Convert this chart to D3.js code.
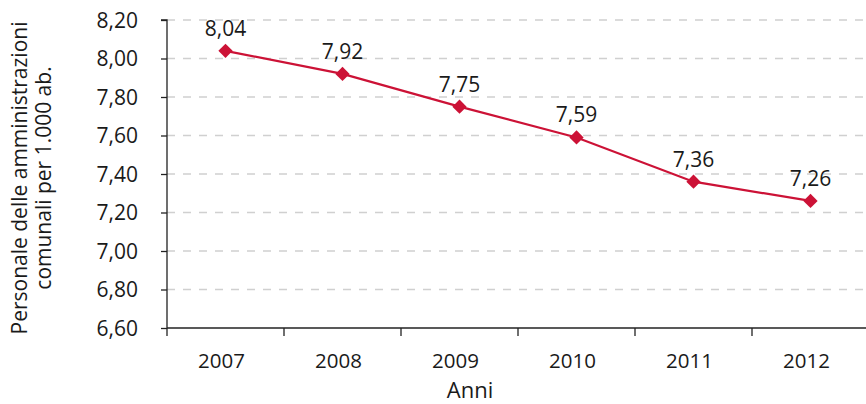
<!DOCTYPE html>
<html>
<head>
<meta charset="utf-8">
<script src="https://cdn.jsdelivr.net/npm/d3@7"></script>
<style>
  html, body { margin: 0; padding: 0; background: #fff; }
  svg text { font-family: "Open Sans", "Noto Sans", sans-serif; fill: #1a1a1a; }
</style>
</head>
<body>
<svg id="chart" width="866" height="404"></svg>
<script>
const years = ["2007", "2008", "2009", "2010", "2011", "2012"];
const staffPer1000 = [8.04, 7.92, 7.75, 7.59, 7.36, 7.26];
const yTicks = [6.6, 6.8, 7.0, 7.2, 7.4, 7.6, 7.8, 8.0, 8.2];
const yTitleLines = ["Personale delle amministrazioni", "comunali per 1.000 ab."];
const xTitle = "Anni";

const svg = d3.select("#chart");
const margin = { left: 167, right: 0, top: 20, bottom: 76 };
const W = 866, H = 404;
const bandW = 117;

const x = d3.scaleBand().domain(years).range([margin.left, margin.left + bandW * years.length]);
const y = d3.scaleLinear().domain([6.6, 8.2]).range([H - margin.bottom, margin.top]);
const fmt = v => d3.format(".2f")(v).replace(".", ",");

// dashed gridlines
svg.append("g")
  .selectAll("line")
  .data(yTicks.filter(t => t > 6.6))
  .join("line")
  .attr("x1", margin.left).attr("x2", W)
  .attr("y1", d => y(d)).attr("y2", d => y(d))
  .attr("stroke", "#d0d0d0").attr("stroke-width", 1.3)
  .attr("stroke-dasharray", "8,8");

// y axis
const yAxis = svg.append("g")
  .attr("transform", `translate(${margin.left},0)`)
  .call(d3.axisLeft(y).tickValues(yTicks).tickFormat(fmt).tickSize(6).tickPadding(8));
yAxis.selectAll("path, line").attr("stroke", "#222").attr("stroke-width", 1.3);
yAxis.select(".domain").attr("d", `M-6,${y(8.2)}H0V${y(6.6)}`);
yAxis.selectAll("text").style("font-size", "21px").attr("x", -29).attr("dy", "0.35em");

// x axis
const xAxis = svg.append("g")
  .attr("transform", `translate(0,${y(6.6)})`)
  .call(d3.axisBottom(x).tickSize(0).tickPadding(0));
xAxis.select(".domain").attr("d", `M${margin.left},0H${W}`).attr("stroke", "#222").attr("stroke-width", 1.3);
xAxis.selectAll("text").style("font-size", "20.5px").attr("dy", null).attr("y", 40).attr("dx", -4);
svg.append("g")
  .selectAll("line")
  .data(d3.range(years.length + 1))
  .join("line")
  .attr("x1", i => margin.left + i * bandW).attr("x2", i => margin.left + i * bandW)
  .attr("y1", y(6.6)).attr("y2", y(6.6) + 8)
  .attr("stroke", "#222").attr("stroke-width", 1.3);

// axis titles
const yt = svg.append("text")
  .attr("transform", `translate(27,${(y(6.6) + y(8.2)) / 2 + 4}) rotate(-90)`)
  .attr("text-anchor", "middle")
  .style("font-size", "21px");
yt.selectAll("tspan").data(yTitleLines).join("tspan")
  .attr("x", 0).attr("dy", (d, i) => i === 0 ? 0 : 24)
  .text(d => d);

svg.append("text")
  .attr("x", 470).attr("y", 398)
  .attr("text-anchor", "middle")
  .style("font-size", "22px")
  .text(xTitle);

// series
const cx = d => x(d) + x.bandwidth() / 2;
const pts = years.map((yr, i) => ({ yr, v: staffPer1000[i] }));
const red = "#cc1236";

svg.append("path")
  .datum(pts)
  .attr("fill", "none").attr("stroke", red).attr("stroke-width", 2.2)
  .attr("d", d3.line().x(d => cx(d.yr)).y(d => y(d.v)));

svg.append("g")
  .selectAll("path")
  .data(pts)
  .join("path")
  .attr("d", d3.symbol(d3.symbolDiamond2, 130))
  .attr("transform", d => `translate(${cx(d.yr)},${y(d.v)})`)
  .attr("fill", red);

svg.append("g")
  .selectAll("text")
  .data(pts)
  .join("text")
  .attr("x", d => cx(d.yr)).attr("y", d => y(d.v) - 15)
  .attr("text-anchor", "middle")
  .style("font-size", "21px")
  .text(d => fmt(d.v));
</script>
</body>
</html>
